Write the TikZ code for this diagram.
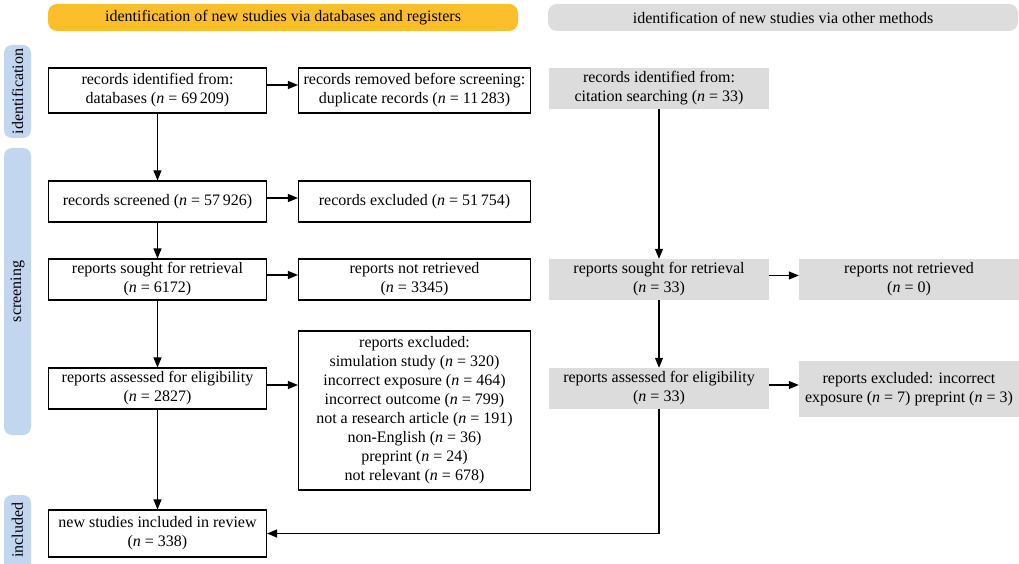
\documentclass[tikz,border=0pt]{standalone}
\usepackage{fontspec}
\setmainfont{Liberation Serif}
\usetikzlibrary{arrows.meta}
\definecolor{bannerY}{HTML}{FCBF2B}
\definecolor{bannerG}{HTML}{DDDDDD}
\definecolor{sideB}{HTML}{C3D6F0}
\definecolor{boxG}{HTML}{DCDCDC}
\begin{document}
\begin{tikzpicture}[x=1pt,y=-1pt,
  every node/.style={font=\fontsize{16}{19}\selectfont, inner sep=0pt, align=center},
  wbox/.style={draw=black, line width=1.1pt, fill=white, rectangle},
  gbox/.style={fill=boxG, rectangle},
  lw/.style={minimum width=218pt},
  mw/.style={minimum width=232pt},
  rw/.style={minimum width=220pt},
  arr/.style={line width=1.1pt, -{Triangle[length=10pt,width=8pt]}},
  sidebar/.style={fill=sideB, rounded corners=8pt},
  banner/.style={rounded corners=9pt}
]
\useasboundingbox (0,0) rectangle (1019,564);
% banners
\fill[banner, bannerY] (48,4) rectangle (518,31);
\node (bY) at (283,17.5) {identification of new studies via databases and registers};
\fill[banner, bannerG] (548,4) rectangle (1018,31);
\node (bG) at (783,17.5) {identification of new studies via other methods};
% side bars
\fill[sidebar] (4,45) rectangle (31,138);
\node[rotate=90] (s1) at (17.5,91.5) {identification};
\fill[sidebar] (4,148) rectangle (31,435);
\node[rotate=90] (s2) at (17.5,291.5) {screening};
\fill[sidebar] (4,495) rectangle (31,572);
\node[rotate=90] (s3) at (17.5,530) {included};
% left column
\node[wbox, lw, minimum height=45pt] (a) at (157.5,90.5) {records identified from:\\databases (\textit{n} = 69\,209)};
\node[wbox, mw, minimum height=45pt] (b) at (414.5,90.5) {records removed before screening:\\duplicate records (\textit{n} = 11\,283)};
\node[wbox, lw, minimum height=41pt] (c) at (157.5,201.5) {records screened (\textit{n} = 57\,926)};
\node[wbox, mw, minimum height=41pt] (d) at (414.5,201.5) {records excluded (\textit{n} = 51\,754)};
\node[wbox, lw, minimum height=41pt] (e) at (157.5,279.5) {reports sought for retrieval\\(\textit{n} = 6172)};
\node[wbox, mw, minimum height=41pt] (f) at (414.5,279.5) {reports not retrieved\\(\textit{n} = 3345)};
\node[wbox, lw, minimum height=41pt] (g) at (157.5,388.5) {reports assessed for eligibility\\(\textit{n} = 2827)};
\node[wbox, mw, minimum height=159pt] (h) at (414.5,410.5) {reports excluded:\\simulation study (\textit{n} = 320)\\incorrect exposure (\textit{n} = 464)\\incorrect outcome (\textit{n} = 799)\\not a research article (\textit{n} = 191)\\non-English (\textit{n} = 36)\\preprint (\textit{n} = 24)\\not relevant (\textit{n} = 678)};
\node[wbox, lw, minimum height=47pt] (i) at (157.5,533.5) {new studies included in review\\(\textit{n} = 338)};
% right column
\node[gbox, rw, minimum height=41pt] (r1) at (659,88.5) {records identified from:\\citation searching (\textit{n} = 33)};
\node[gbox, rw, minimum height=41pt] (r2) at (659,279.5) {reports sought for retrieval\\(\textit{n} = 33)};
\node[gbox, rw, minimum height=41pt] (r3) at (909,279.5) {reports not retrieved\\(\textit{n} = 0)};
\node[gbox, rw, minimum height=41pt] (r4) at (659,388.5) {reports assessed for eligibility\\(\textit{n} = 33)};
\node[gbox, rw, minimum height=56pt] (r5) at (909,389) {reports excluded: incorrect\\exposure (\textit{n} = 7) preprint (\textit{n} = 3)};
% connectors left
\draw[arr] (a) -- (c);
\draw[arr] ([yshift=5.5pt]a.east) -- ([yshift=5.5pt]b.west);
\draw[arr] (c) -- (e);
\draw[arr] ([yshift=3.5pt]c.east) -- ([yshift=3.5pt]d.west);
\draw[arr] (e) -- (g);
\draw[arr] ([yshift=4.5pt]e.east) -- ([yshift=4.5pt]f.west);
\draw[arr] (g) -- (i);
\draw[arr] ([yshift=3.5pt]g.east) -- ([yshift=3.5pt]g.east -| h.west);
% connectors right
\draw[arr] (r1) -- (r2);
\draw[arr] (r2) -- (r4);
\draw[arr] ([yshift=4pt]r2.east) -- ([yshift=4pt]r3.west);
\draw[arr] ([yshift=3.5pt]r4.east) -- ([yshift=3.5pt]r4.east -| r5.west);
\draw[arr] (r4.south) |- (i.east);
\end{tikzpicture}
\end{document}
